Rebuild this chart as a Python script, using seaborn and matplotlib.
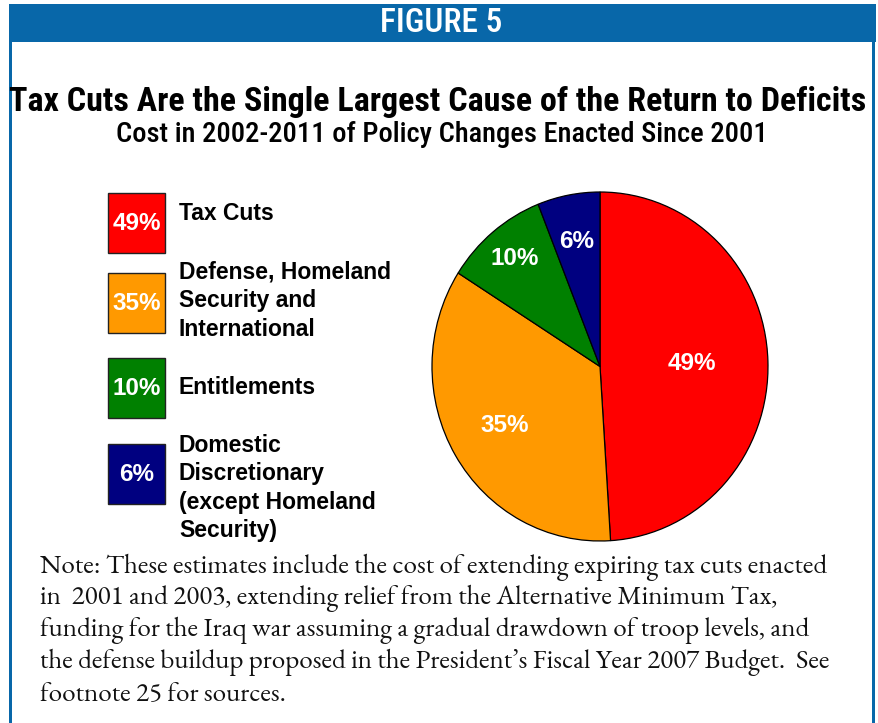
import matplotlib
matplotlib.use("Agg")
import matplotlib.pyplot as plt
from matplotlib.patches import Rectangle
import seaborn as sns
import numpy as np

# ---- data ----
categories = ["Tax Cuts", "Defense, Homeland Security and International",
              "Entitlements", "Domestic Discretionary (except Homeland Security)"]
legend_lines = [["Tax Cuts"],
                ["Defense, Homeland", "Security and", "International"],
                ["Entitlements"],
                ["Domestic", "Discretionary", "(except Homeland", "Security)"]]
shares = [49, 35, 10, 6]
colors = ["#FF0000", "#FF9900", "#008000", "#000080"]

header = "FIGURE 5"
title = "Tax Cuts Are the Single Largest Cause of the Return to Deficits"
subtitle = "Cost in 2002-2011 of Policy Changes Enacted Since 2001"
note_lines = [
    "Note: These estimates include the cost of extending expiring tax cuts enacted",
    "in  2001 and 2003, extending relief from the Alternative Minimum Tax,",
    "funding for the Iraq war assuming a gradual drawdown of troop levels, and",
    "the defense buildup proposed in the President\u2019s Fiscal Year 2007 Budget.  See",
    "footnote 25 for sources.",
]

sns.set_theme(style="white")
plt.rcParams["font.family"] = ["Liberation Sans", "DejaVu Sans"]

W, H = 879, 723
fig = plt.figure(figsize=(W / 100, H / 100), dpi=100)
fig.patch.set_facecolor("white")

# background canvas in pixel units (y downwards)
bg = fig.add_axes([0, 0, 1, 1])
bg.set_xlim(0, W)
bg.set_ylim(H, 0)
bg.axis("off")

blue = "#0867A9"
narrow = ["Roboto Condensed", "Archivo Narrow", "Liberation Sans", "DejaVu Sans"]
serif = ["EB Garamond", "Liberation Serif", "DejaVu Serif"]

# frame and header band
bg.add_patch(Rectangle((9, 4), 867, 38, color=blue, lw=0))
bg.add_patch(Rectangle((9, 4), 3, H, color=blue, lw=0))
bg.add_patch(Rectangle((872, 4), 3, H, color=blue, lw=0))
bg.text(441, 23.5, header, color="white", fontsize=24, family=narrow,
        fontweight="medium", ha="center", va="center")

bg.text(438, 102, title, color="black", fontsize=24.5, fontweight="bold",
        family=narrow, ha="center", va="center")
bg.text(442, 135, subtitle, color="black", fontsize=20.5, fontweight="medium",
        family=narrow, ha="center", va="center")

# legend boxes with values
box_tops = [193, 273, 358, 444]
text_tops = [213, 272, 387, 445]
for val, col, top, lines, ty in zip(shares, colors, box_tops, legend_lines, text_tops):
    bg.add_patch(Rectangle((108, top), 57, 60, facecolor=col, edgecolor="#222222", lw=1))
    bg.text(136.5, top + 30.5, f"{val}%", color="white", fontsize=17.5,
            fontweight="bold", ha="center", va="center")
    for i, ln in enumerate(lines):
        bg.text(179, ty + i * 28.5, ln, color="black", fontsize=16.5,
                fontweight="bold", ha="left", va="center")

# note
for i, ln in enumerate(note_lines):
    bg.text(40, 567 + i * 31.8, ln, color="#111111", fontsize=19.5,
            family=serif, ha="left", va="center")

# pie
cx, cy, rx, ry = 600, 366.5, 168, 174.5
pad = 1.05
ax = fig.add_axes([(cx - rx * pad) / W, (H - cy - ry * pad) / H,
                   2 * rx * pad / W, 2 * ry * pad / H])
wedges, _ = ax.pie(shares, colors=colors, startangle=90, counterclock=False,
                   wedgeprops=dict(edgecolor="black", linewidth=0.9))
ax.set_aspect("auto")
ax.set_xlim(-pad, pad)
ax.set_ylim(-pad, pad)
ax.axis("off")

label_r = [0.55, 0.66, 0.80, 0.73]
for w, val, r in zip(wedges, shares, label_r):
    mid = np.deg2rad((w.theta1 + w.theta2) / 2)
    ax.text(r * np.cos(mid), r * np.sin(mid), f"{val}%", color="white",
            fontsize=17.5, fontweight="bold", ha="center", va="center")

fig.savefig("out.png", dpi=100)
